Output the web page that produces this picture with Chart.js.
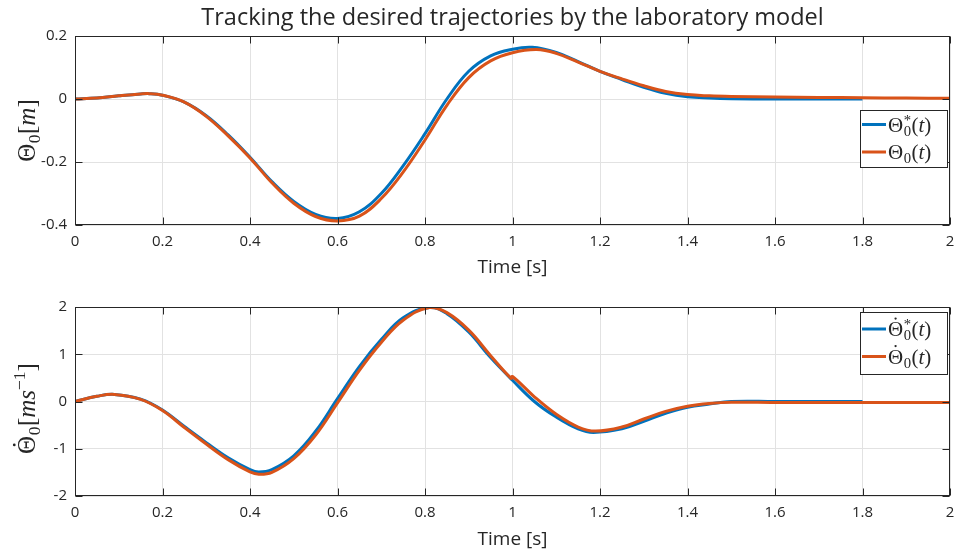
<!DOCTYPE html>
<html><head><meta charset="utf-8">
<script src="https://cdn.jsdelivr.net/npm/chart.js@4.4.0/dist/chart.umd.min.js"></script>
<style>
html,body{margin:0;padding:0;background:#fff;}
#wrap{position:relative;width:954px;height:550px;overflow:hidden;}
canvas{position:absolute;left:0;display:block;}
#c1{top:0;} #c2{top:280px;}
</style></head><body>
<div id="wrap"><canvas id="c1" width="954" height="280"></canvas><canvas id="c2" width="954" height="270"></canvas></div>
<script>
const titleText = 'Tracking the desired trajectories by the laboratory model';
const xLabel = 'Time [s]';
const xTicks = [0, 0.2, 0.4, 0.6, 0.8, 1, 1.2, 1.4, 1.6, 1.8, 2];
const posTicks = [-0.4, -0.2, 0, 0.2];
const velTicks = [-2, -1, 0, 1, 2];

// Theta_0* (desired) and Theta_0 (actual) positions [m]
const posTimeDesired = [0,0.05,0.1,0.15,0.17,0.2,0.25,0.3,0.35,0.4,0.45,0.5,0.55,0.6,0.65,0.7,0.75,0.8,0.85,0.9,0.95,1.0,1.045,1.1,1.15,1.2,1.25,1.3,1.35,1.4,1.45,1.5,1.6,1.7,1.8];
const posDesired     = [0,0.003,0.01,0.016,0.017,0.012,-0.01,-0.053,-0.114,-0.185,-0.262,-0.325,-0.366,-0.379,-0.358,-0.300,-0.212,-0.110,0.000,0.088,0.137,0.158,0.164,0.148,0.119,0.088,0.062,0.037,0.018,0.007,0.003,0.001,0,0,0];
const posTimeActual  = [0,0.05,0.1,0.15,0.17,0.2,0.25,0.3,0.35,0.4,0.45,0.5,0.55,0.6,0.65,0.7,0.75,0.8,0.85,0.9,0.95,1.0,1.055,1.1,1.15,1.2,1.25,1.3,1.35,1.4,1.45,1.5,1.6,1.7,1.8,1.9,2.0];
const posActual      = [0,0.003,0.01,0.016,0.017,0.012,-0.01,-0.055,-0.117,-0.187,-0.266,-0.331,-0.373,-0.387,-0.372,-0.316,-0.232,-0.130,-0.020,0.068,0.121,0.147,0.157,0.145,0.117,0.088,0.064,0.042,0.024,0.014,0.010,0.008,0.006,0.005,0.004,0.003,0.002];

// Theta_0 dot velocities [m s^-1]
const velTimeDesired = [0,0.05,0.09,0.15,0.2,0.25,0.3,0.35,0.4,0.42,0.45,0.5,0.55,0.6,0.65,0.7,0.75,0.81,0.85,0.9,0.95,1.0,1.05,1.1,1.15,1.185,1.25,1.3,1.35,1.4,1.45,1.5,1.6,1.7,1.8];
const velDesired     = [0,0.11,0.15,0.05,-0.18,-0.53,-0.87,-1.19,-1.44,-1.49,-1.44,-1.15,-0.63,0.06,0.74,1.31,1.77,1.99,1.86,1.47,0.93,0.45,0.0,-0.33,-0.58,-0.655,-0.58,-0.42,-0.25,-0.12,-0.055,0,0,0,0];
const velTimeActual  = [0,0.05,0.09,0.15,0.2,0.25,0.3,0.35,0.4,0.42,0.45,0.5,0.55,0.6,0.65,0.7,0.75,0.81,0.85,0.9,0.95,0.997,1.0,1.05,1.1,1.15,1.19,1.25,1.3,1.35,1.4,1.45,1.5,1.6,1.7,1.8,1.9,2.0];
const velActual      = [0,0.11,0.15,0.045,-0.19,-0.55,-0.90,-1.23,-1.49,-1.54,-1.50,-1.21,-0.71,-0.03,0.66,1.25,1.72,1.99,1.88,1.51,0.97,0.49,0.53,0.10,-0.27,-0.54,-0.625,-0.54,-0.37,-0.21,-0.10,-0.04,-0.015,-0.02,-0.02,-0.02,-0.02,-0.02];

const BLUE = '#0072BD', ORANGE = '#D95319';
const AXIS = '#262626', GRID = '#e2e2e2', TEXT = '#262626';
const UI = '"Open Sans", "Noto Sans", sans-serif';
const MATH = '"Liberation Serif", "DejaVu Serif", serif';

function pts(t, v) { return t.map((x, i) => ({x: x, y: v[i]})); }
function fmt(v) { return String(Number(v.toFixed(2))); }

function drawTheta(ctx, x, y, size, star, dot) {
  ctx.font = size + 'px ' + MATH;
  ctx.fillText('\u0398', x, y);
  const w = ctx.measureText('\u0398').width;
  if (dot) {
    ctx.beginPath();
    ctx.arc(x + w / 2, y - size * 0.83, size * 0.055, 0, Math.PI * 2);
    ctx.fill();
  }
  const s = size * 0.7;
  ctx.font = s + 'px ' + MATH;
  ctx.fillText('0', x + w + 0.5, y + size * 0.2);
  let ww = ctx.measureText('0').width;
  if (star) {
    ctx.fillText('*', x + w + 0.5, y - size * 0.32);
    ww = Math.max(ww, ctx.measureText('*').width);
  }
  return w + ww + 1;
}
function widthTheta(ctx, size, star) {
  ctx.font = size + 'px ' + MATH;
  const w = ctx.measureText('\u0398').width;
  ctx.font = (size * 0.7) + 'px ' + MATH;
  let ww = ctx.measureText('0').width;
  if (star) ww = Math.max(ww, ctx.measureText('*').width);
  return w + ww + 1;
}
function drawRun(ctx, x, y, size, pieces) {
  for (const p of pieces) {
    const s = size * (p[2] || 1);
    ctx.font = (p[1] ? 'italic ' : '') + s + 'px ' + MATH;
    ctx.fillText(p[0], x, y + (p[3] || 0) * size);
    x += ctx.measureText(p[0]).width;
  }
  return x;
}
function widthRun(ctx, size, pieces) {
  let w = 0;
  for (const p of pieces) {
    const s = size * (p[2] || 1);
    ctx.font = (p[1] ? 'italic ' : '') + s + 'px ' + MATH;
    w += ctx.measureText(p[0]).width;
  }
  return w;
}

function decoPlugin(cfg) {
  return {
    id: 'deco' + cfg.key,
    afterDraw(chart) {
      const ctx = chart.ctx, a = chart.chartArea;
      const xs = chart.scales.x, ys = chart.scales.y;
      ctx.save();
      ctx.strokeStyle = AXIS; ctx.lineWidth = 1;
      const L = Math.round(a.left) + 0.5, R = Math.round(a.right) - 0.5;
      const T = Math.round(a.top) + 0.5, B = Math.round(a.bottom) - 0.5;
      ctx.strokeRect(L, T, R - L, B - T);
      ctx.beginPath();
      for (const v of xTicks) {
        const p = Math.round(xs.getPixelForValue(v)) + 0.5;
        ctx.moveTo(p, B); ctx.lineTo(p, B - 7);
        ctx.moveTo(p, T); ctx.lineTo(p, T + 7);
      }
      for (const v of cfg.yTicks) {
        const p = Math.round(ys.getPixelForValue(v)) + 0.5;
        ctx.moveTo(L, p); ctx.lineTo(L + 7, p);
        ctx.moveTo(R, p); ctx.lineTo(R - 7, p);
      }
      ctx.stroke();

      // y-axis label (rotated)
      ctx.fillStyle = TEXT;
      ctx.textBaseline = 'alphabetic';
      const ysz = 25;
      const wT = widthTheta(ctx, ysz, false);
      const wR = widthRun(ctx, ysz, cfg.yUnit);
      const total = wT + wR;
      ctx.translate(35, (a.top + a.bottom) / 2 + cfg.yShift);
      ctx.rotate(-Math.PI / 2);
      const x0 = -total / 2;
      drawTheta(ctx, x0, 0, ysz, false, cfg.dot);
      drawRun(ctx, x0 + wT, 0, ysz, cfg.yUnit);
      ctx.setTransform(1, 0, 0, 1, 0, 0);

      // legend
      const lb = cfg.legend;
      ctx.fillStyle = '#ffffff';
      ctx.fillRect(lb.x, lb.y, lb.w, lb.h);
      ctx.strokeStyle = AXIS; ctx.lineWidth = 1;
      ctx.strokeRect(lb.x + 0.5, lb.y + 0.5, lb.w - 1, lb.h - 1);
      const rows = [{c: BLUE, star: true}, {c: ORANGE, star: false}];
      rows.forEach((r, i) => {
        const cy = lb.y + lb.r0 + i * 27.5;
        ctx.strokeStyle = r.c; ctx.lineWidth = 3;
        ctx.beginPath(); ctx.moveTo(lb.x + 2, cy); ctx.lineTo(lb.x + 26, cy); ctx.stroke();
        ctx.fillStyle = TEXT;
        const bx = lb.x + 28, by = cy + 7;
        const w = drawTheta(ctx, bx, by, 21, r.star, cfg.dot);
        drawRun(ctx, bx + w, by, 21, [['(', false], ['t', true], [')', false]]);
      });
      ctx.restore();
    }
  };
}

function makeChart(id, cfg) {
  const datasets = [
    {label: cfg.names[0], data: pts(cfg.tD, cfg.vD), borderColor: BLUE, order: 1},
    {label: cfg.names[1], data: pts(cfg.tA, cfg.vA), borderColor: ORANGE, order: 0}
  ];
  const tickFont = {family: UI, size: 15};
  return new Chart(document.getElementById(id), {
    type: 'line',
    data: {datasets},
    options: {
      responsive: false, animation: false, events: [],
      layout: {padding: {left: 0, right: 4, top: cfg.padTop, bottom: 0}},
      elements: {point: {radius: 0}, line: {borderWidth: 3, tension: 0.4, cubicInterpolationMode: 'default', fill: false}},
      plugins: {
        legend: {display: false}, tooltip: {enabled: false},
        title: cfg.title ? {display: true, text: cfg.title, fullSize: false, color: TEXT,
          font: {family: UI, size: 23.5, weight: 'normal'}, padding: {top: 4, bottom: 3.8}} : {display: false}
      },
      scales: {
        x: {
          type: 'linear', min: 0, max: 2,
          afterBuildTicks: s => { s.ticks = xTicks.map(v => ({value: v})); },
          afterFit: s => { s.height = cfg.xH; s.paddingLeft = 0; s.paddingRight = 0; },
          grid: {color: GRID, drawTicks: false}, border: {display: false},
          ticks: {padding: 8, font: tickFont, color: TEXT, maxRotation: 0, callback: v => fmt(v)},
          title: {display: true, text: xLabel, color: TEXT, font: {family: UI, size: 19}, padding: {top: 0, bottom: cfg.xTitlePad}}
        },
        y: {
          min: cfg.yMin, max: cfg.yMax,
          afterBuildTicks: s => { s.ticks = cfg.yTicks.map(v => ({value: v})); },
          afterFit: s => { s.width = 75; s.paddingTop = 0; s.paddingBottom = 0; },
          grid: {color: GRID, drawTicks: false}, border: {display: false},
          ticks: {padding: 8, font: tickFont, color: TEXT, callback: v => fmt(v)}
        }
      }
    },
    plugins: [decoPlugin(cfg)]
  });
}

makeChart('c1', {
  key: 1, title: titleText, padTop: 0, xH: 55, xTitlePad: 1,
  names: ['\u0398\u2080*(t)', '\u0398\u2080(t)'],
  tD: posTimeDesired, vD: posDesired, tA: posTimeActual, vA: posActual,
  yMin: -0.4, yMax: 0.2, yTicks: posTicks, dot: false, yShift: 0,
  yUnit: [['[', false], ['m', true], [']', false]],
  legend: {x: 860, y: 110, w: 88, h: 58, r0: 14.5}
});
makeChart('c2', {
  key: 2, title: null, padTop: 27, xH: 54, xTitlePad: -1,
  names: ['\u0398\u0307\u2080*(t)', '\u0398\u0307\u2080(t)'],
  tD: velTimeDesired, vD: velDesired, tA: velTimeActual, vA: velActual,
  yMin: -2, yMax: 2, yTicks: velTicks, dot: true, yShift: 7,
  yUnit: [['[', false], ['ms', true], ['\u22121', false, 0.7, -0.4], [']', false]],
  legend: {x: 860, y: 32, w: 88, h: 63, r0: 17}
});
</script>
</body></html>
